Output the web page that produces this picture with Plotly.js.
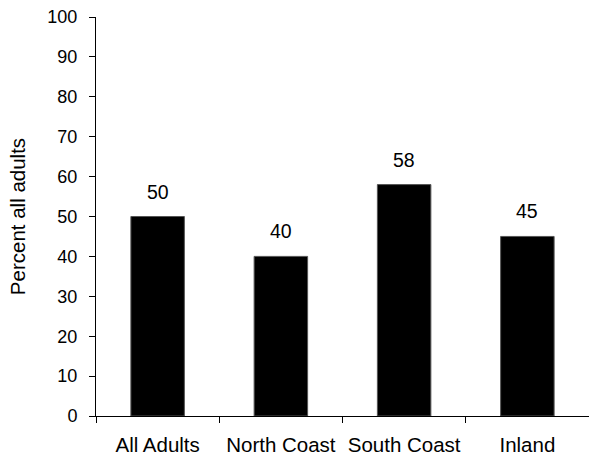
<!DOCTYPE html>
<html>
<head>
<meta charset="utf-8">
<script src="https://cdn.plot.ly/plotly-3.0.1.min.js"></script>
<style>html,body{margin:0;padding:0;background:#fff;}#chart{width:589px;height:459px;}</style>
</head>
<body>
<div id="chart"></div>
<script>
const categories = ["All Adults", "North Coast", "South Coast", "Inland"];
const values = [50, 40, 58, 45];
const yTickValues = [0, 10, 20, 30, 40, 50, 60, 70, 80, 90, 100];
const yTitle = "Percent all adults";

const FONT = "Liberation Sans, Arial, sans-serif";

const trace = {
  type: "bar",
  x: categories,
  y: values,
  marker: {color: "#000000", line: {color: "#555555", width: 1}},
  hoverinfo: "none"
};

const annotations = categories.map((c, i) => ({
  x: c, y: values[i], xref: "x", yref: "y",
  text: String(values[i]), showarrow: false,
  yanchor: "middle", yshift: 25,
  font: {family: FONT, size: 19.5, color: "#000"}
}));

const layout = {
  width: 589, height: 459,
  margin: {l: 96, r: 0, t: 17, b: 43},
  paper_bgcolor: "#fff", plot_bgcolor: "#fff",
  showlegend: false,
  bargap: 0.566,
  xaxis: {
    type: "category",
    showline: true, linecolor: "#000", linewidth: 1,
    ticks: "outside", tickson: "boundaries", ticklen: 6, tickcolor: "#000",
    showgrid: false, zeroline: false,
    tickfont: {family: FONT, size: 20.5, color: "#000"},
    ticklabelstandoff: 10
  },
  yaxis: {
    range: [0, 100],
    tickvals: yTickValues,
    showline: true, linecolor: "#000", linewidth: 1,
    ticks: "outside", ticklen: 6, tickcolor: "#000",
    showgrid: false, zeroline: false,
    tickfont: {family: FONT, size: 18, color: "#000"},
    ticklabelstandoff: 8,
    title: {text: yTitle, font: {family: FONT, size: 20.5, color: "#000"}, standoff: 16}
  },
  annotations: annotations
};

Plotly.newPlot("chart", [trace], layout, {displayModeBar: false, staticPlot: true});
</script>
</body>
</html>
